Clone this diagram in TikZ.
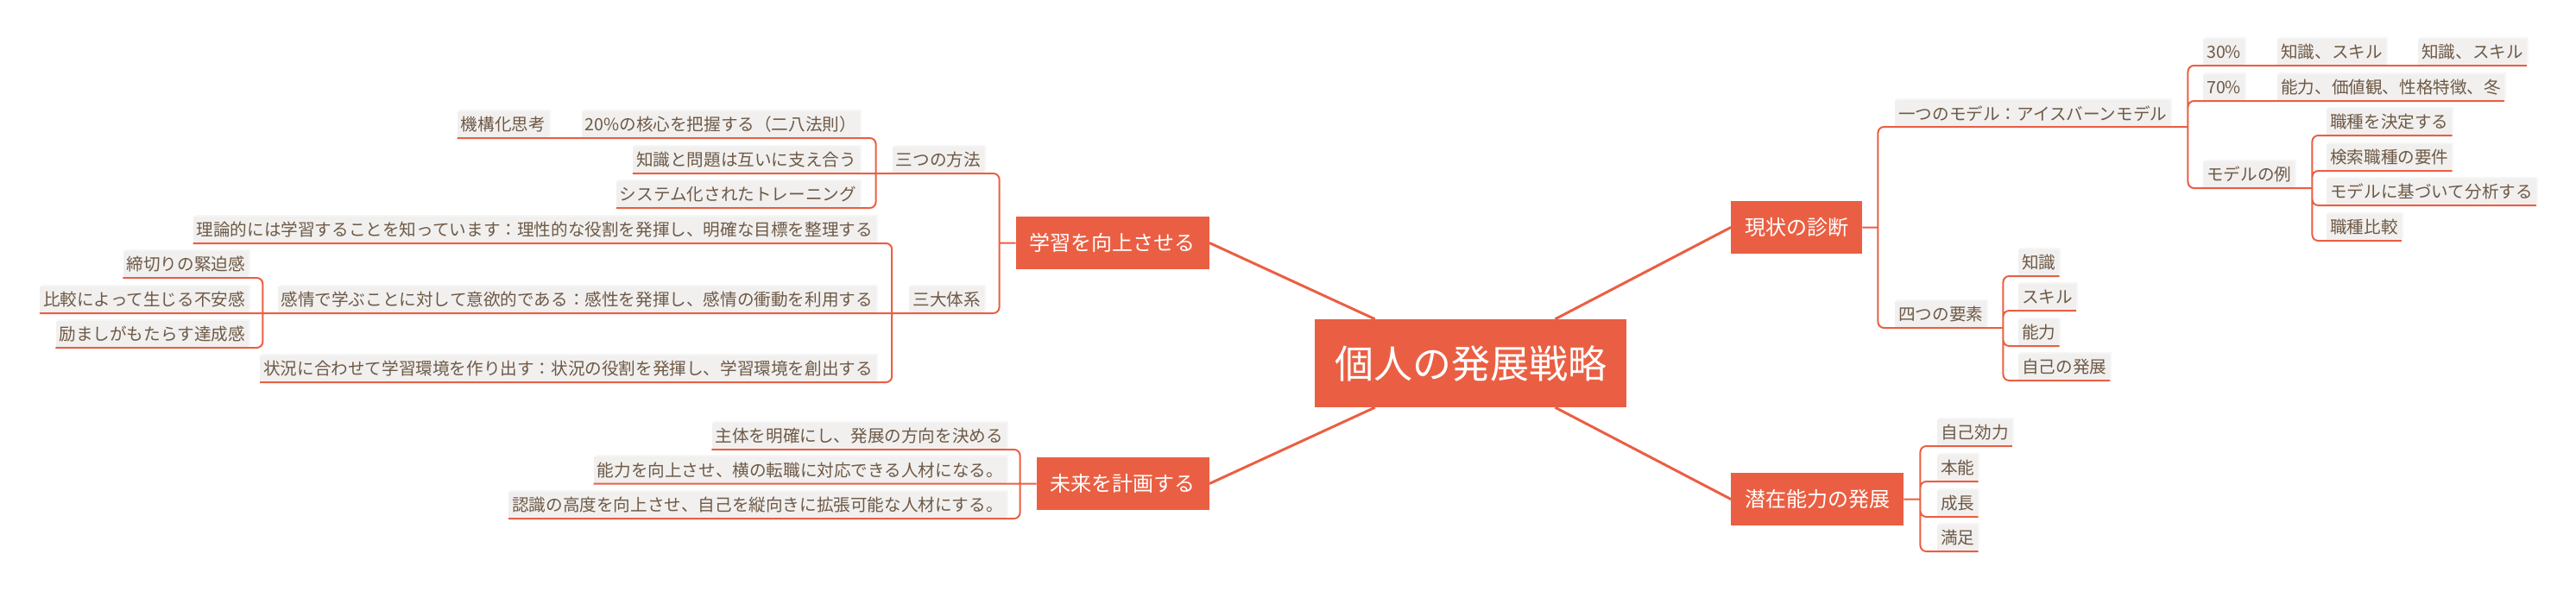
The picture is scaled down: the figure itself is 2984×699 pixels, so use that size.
\documentclass[tikz,border=0pt]{standalone}
\usepackage{fontspec}
\setmainfont{Noto Sans CJK JP}
\usetikzlibrary{shadows}

\definecolor{mapred}{RGB}{234,95,67}
\definecolor{leafgray}{RGB}{241,240,239}
\definecolor{leafbrown}{RGB}{110,89,70}

\tikzset{
  root/.style={fill=mapred, text=white, font=\fontsize{45}{50}\selectfont,
    minimum height=102, inner xsep=23},
  topic/.style={fill=mapred, text=white, font=\fontsize{24}{28}\selectfont,
    minimum height=61, inner xsep=16},
  leaf/.style={fill=leafgray, text=leafbrown, font=\fontsize{19.6}{22}\selectfont,
    minimum height=31, inner xsep=4, inner ysep=0,
    drop shadow={shadow xshift=2, shadow yshift=-2, opacity=0.07}},
  rleaf/.style={leaf, anchor=south west},
  lleaf/.style={leaf, anchor=south east},
  trunk/.style={draw=mapred, line width=3},
  link/.style={draw=mapred, line width=2, rounded corners=7},
}

\begin{document}
\begin{tikzpicture}[x=1pt, y=-1pt]
\useasboundingbox (0,0) rectangle (2984,699);

\draw (1703.5, 421) node[root] (root) {個人の発展戦略} ;

\draw (1401, 281.5) node[topic, anchor=east] (learn) {学習を向上させる} ;
\draw (1401, 560.5) node[topic, anchor=east] (plan) {未来を計画する} ;
\draw (2005, 263.5) node[topic, anchor=west] (diag) {現状の診断} ;
\draw (2005, 578.5) node[topic, anchor=west] (pot) {潜在能力の発展} ;

\draw (1140, 201) node[lleaf] (three) {三つの方法} ;
\draw (1140, 363) node[lleaf] (sys) {三大体系} ;

\draw (996, 160) node[lleaf] (t1) {20\%の核心を把握する（二八法則）} ;
\draw (636, 160) node[lleaf] (t0) {機構化思考} ;
\draw (996, 201) node[lleaf] (t2) {知識と問題は互いに支え合う} ;
\draw (996, 241) node[lleaf] (t3) {システム化されたトレーニング} ;

\draw (1015, 282) node[lleaf] (s1) {理論的には学習することを知っています：理性的な役割を発揮し、明確な目標を整理する} ;
\draw (1015, 363) node[lleaf] (s2) {感情で学ぶことに対して意欲的である：感性を発揮し、感情の衝動を利用する} ;
\draw (1015, 443) node[lleaf] (s3) {状況に合わせて学習環境を作り出す：状況の役割を発揮し、学習環境を創出する} ;

\draw (288, 322) node[lleaf] (e1) {締切りの緊迫感} ;
\draw (288, 363) node[lleaf] (e2) {比較によって生じる不安感} ;
\draw (288, 403) node[lleaf] (e3) {励ましがもたらす達成感} ;

\draw (1166, 521) node[lleaf] (f1) {主体を明確にし、発展の方向を決める} ;
\draw (1166, 560.5) node[lleaf] (f2) {能力を向上させ、横の転職に対応できる人材になる。} ;
\draw (1166, 601) node[lleaf] (f3) {認識の高度を向上させ、自己を縦向きに拡張可能な人材にする。} ;

\draw (2195, 147) node[rleaf] (model) {一つのモデル：アイスバーンモデル} ;
\draw (2195, 380) node[rleaf] (four) {四つの要素} ;

\draw (2552, 76) node[rleaf] (p30) {30\%} ;
\draw (2638, 76) node[rleaf] (p30a) {知識、スキル} ;
\draw (2801, 76) node[rleaf] (p30b) {知識、スキル} ;
\draw (2552, 117) node[rleaf] (p70) {70\%} ;
\draw (2638, 117) node[rleaf] (p70a) {能力、価値観、性格特徴、冬} ;
\draw (2552, 218) node[rleaf] (ex) {モデルの例} ;

\draw (2695, 157) node[rleaf] (ex1) {職種を決定する} ;
\draw (2695, 198) node[rleaf] (ex2) {検索職種の要件} ;
\draw (2695, 238) node[rleaf] (ex3) {モデルに基づいて分析する} ;
\draw (2695, 279) node[rleaf] (ex4) {職種比較} ;

\draw (2338, 320) node[rleaf] (k1) {知識} ;
\draw (2338, 360) node[rleaf] (k2) {スキル} ;
\draw (2338, 401) node[rleaf] (k3) {能力} ;
\draw (2338, 441) node[rleaf] (k4) {自己の発展} ;

\draw (2244, 517) node[rleaf] (q1) {自己効力} ;
\draw (2244, 558) node[rleaf] (q2) {本能} ;
\draw (2244, 599) node[rleaf] (q3) {成長} ;
\draw (2244, 639) node[rleaf] (q4) {満足} ;

\coordinate (learnj) at ([xshift=-19]learn.west) ;
\coordinate (threej) at ([xshift=-19]three.south west) ;
\coordinate (sysj) at ([xshift=-20]sys.south west) ;
\coordinate (s2j) at ([xshift=-17]s2.south west) ;
\coordinate (planj) at ([xshift=-19]plan.west) ;
\coordinate (diagj) at ([xshift=18]diag.east) ;
\coordinate (modelj) at ([xshift=20]model.south east) ;
\coordinate (exj) at ([xshift=20]ex.south east) ;
\coordinate (fourj) at ([xshift=19]four.south east) ;
\coordinate (potj) at ([xshift=19]pot.east) ;

\draw[trunk]
     (root) -- (learn.east)
     (root) -- (plan.east)
     (root) -- (diag.west)
     (root) -- (pot.west) ;

\draw[link]
     (learn.west) -- (learnj)
     (learnj) |- (three.south east) -- (three.south west)
     (learnj) |- (sys.south east) -- (sys.south west)

     (three.south west) -- (threej)
     (threej) |- (t1.south east) -- (t1.south west)
     (threej) -- (t2.south east) -- (t2.south west)
     (threej) |- (t3.south east) -- (t3.south west)
     (t1.south west) -- (t0.south east) -- (t0.south west)

     (sys.south west) -- (sysj)
     (sysj) |- (s1.south east) -- (s1.south west)
     (sysj) -- (s2.south east) -- (s2.south west)
     (sysj) |- (s3.south east) -- (s3.south west)

     (s2.south west) -- (s2j)
     (s2j) |- (e1.south east) -- (e1.south west)
     (s2j) -- (e2.south east) -- (e2.south west)
     (s2j) |- (e3.south east) -- (e3.south west)

     (plan.west) -- (planj)
     (planj) |- (f1.south east) -- (f1.south west)
     (planj) -- (f2.south east) -- (f2.south west)
     (planj) |- (f3.south east) -- (f3.south west) ;

\draw[link]
     (diag.east) -- (diagj)
     (diagj) |- (model.south west) -- (model.south east)
     (diagj) |- (four.south west) -- (four.south east)

     (model.south east) -- (modelj)
     (modelj) |- (p30.south west) -- (p30.south east)
     (modelj) |- (p70.south west) -- (p70.south east)
     (modelj) |- (ex.south west) -- (ex.south east)
     (p30.south east) -- (p30a.south west) -- (p30a.south east)
     (p30a.south east) -- (p30b.south west) -- (p30b.south east)
     (p70.south east) -- (p70a.south west) -- (p70a.south east)

     (ex.south east) -- (exj)
     (exj) |- (ex1.south west) -- (ex1.south east)
     (exj) |- (ex2.south west) -- (ex2.south east)
     (exj) |- (ex3.south west) -- (ex3.south east)
     (exj) |- (ex4.south west) -- (ex4.south east)

     (four.south east) -- (fourj)
     (fourj) |- (k1.south west) -- (k1.south east)
     (fourj) |- (k2.south west) -- (k2.south east)
     (fourj) |- (k3.south west) -- (k3.south east)
     (fourj) |- (k4.south west) -- (k4.south east)

     (pot.east) -- (potj)
     (potj) |- (q1.south west) -- (q1.south east)
     (potj) |- (q2.south west) -- (q2.south east)
     (potj) |- (q3.south west) -- (q3.south east)
     (potj) |- (q4.south west) -- (q4.south east) ;
\end{tikzpicture}
\end{document}
